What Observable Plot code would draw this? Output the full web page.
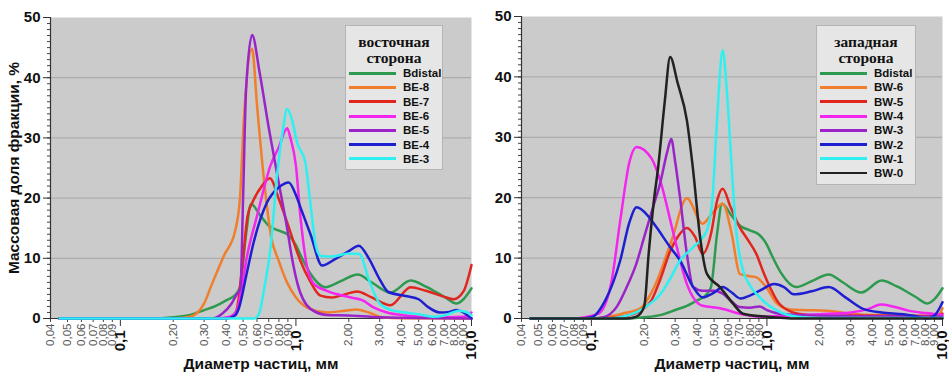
<!DOCTYPE html>
<html><head><meta charset="utf-8">
<script src="https://cdn.jsdelivr.net/npm/d3@7"></script>
<script src="https://cdn.jsdelivr.net/npm/@observablehq/plot@0.6"></script>
<style>
body{margin:0;background:#fff;font-family:"Liberation Sans",Arial,sans-serif}
#wrap{position:relative;width:949px;height:373px}
.panel{position:absolute;top:0}
.legend{position:absolute;background:#e6e6e6;border:1px solid #b4b4b4;box-sizing:border-box;padding-top:8px}
.legend .title{font-family:"Liberation Serif","Times New Roman",serif;font-weight:bold;font-size:15.5px;text-align:center;line-height:16px;color:#111}
.legend .row{display:flex;align-items:center;height:14.3px}
.legend .sw{width:47px;height:3px;margin-left:3px;margin-right:7px;flex:none}
.legend .lab{font-weight:bold;font-size:11.5px;color:#111;line-height:12px}
</style>
</head><body>
<div id="wrap">
  <div id="left" class="panel" style="left:0"></div>
  <div id="right" class="panel" style="left:475px"></div>
  <div id="legL" class="legend" style="left:345px;top:25px;width:98px;height:145px"></div>
  <div id="legR" class="legend" style="left:816px;top:25px;width:100px;height:160px"></div>
</div>
<script>
// ---------- data: [diameter mm, mass %] ----------
const bdistal = [[0.045,0],[0.15,0],[0.2,0.2],[0.25,0.6],[0.3,1.4],[0.35,2.1],[0.4,3],[0.45,3.9],[0.48,5.2],[0.52,14],[0.555,19],[0.63,17],[0.7,15.4],[0.8,14.6],[0.9,13.9],[1.0,12.2],[1.06,10.6],[1.2,7.6],[1.47,5.2],[1.8,6.2],[2.25,7.3],[2.7,6],[3.45,4.3],[4.5,6.3],[5.5,5.3],[7,3.6],[8.2,2.5],[9,3.2],[10,5]];

const be8 = [[0.045,0],[0.2,0],[0.25,0.3],[0.3,2.5],[0.33,5.5],[0.39,10.5],[0.45,14.5],[0.48,20],[0.505,33],[0.563,44.8],[0.6,35.5],[0.66,22.6],[0.72,13.8],[0.8,9.5],[0.89,6],[1.0,3.5],[1.2,1.6],[1.5,1.0],[1.9,1.3],[2.2,1.5],[2.6,1.0],[3.1,0.2],[4,0.05],[10,0]];
const be7 = [[0.045,0],[0.4,0],[0.44,0.5],[0.46,1.5],[0.5,10],[0.53,17],[0.57,19.5],[0.64,22],[0.71,23.3],[0.8,19.8],[0.89,16],[1.0,11.6],[1.06,9.6],[1.2,6.3],[1.38,3.8],[1.6,3.5],[1.9,4],[2.23,4.5],[2.7,3.5],[3.45,2.2],[4.5,5.2],[5.5,4.6],[7,3.6],[7.9,3.2],[9,4.5],[10,8.9]];
const be6 = [[0.045,0],[0.35,0],[0.42,0.3],[0.46,1.3],[0.49,5],[0.527,10.4],[0.6,17],[0.716,25.4],[0.8,28.5],[0.891,31.6],[0.93,30],[1.0,25.4],[1.06,17],[1.15,9],[1.26,5.8],[1.5,4.6],[2.06,3.5],[2.4,3],[2.75,1.9],[3.3,1],[4.2,0.5],[6,0.2],[9,0.3],[10,1.0]];
const be5 = [[0.045,0],[0.33,0],[0.38,0.8],[0.43,2.5],[0.46,4],[0.483,5],[0.5,20],[0.52,38],[0.563,47.1],[0.62,41],[0.7,31.7],[0.8,22.4],[0.891,15],[0.95,10],[1.016,6],[1.21,1.6],[1.5,0.6],[2,0.5],[3,0.2],[10,0]];
const be4 = [[0.045,0],[0.4,0],[0.45,0.5],[0.473,1.7],[0.52,7],[0.575,12.7],[0.685,19.3],[0.8,21.8],[0.91,22.6],[1.0,20.5],[1.06,18.5],[1.21,14],[1.41,8.8],[1.7,10],[2.0,11.2],[2.28,12.1],[2.6,10],[3.0,6.5],[3.36,4.4],[4.3,3.7],[5,3.2],[5.6,2],[6.6,1],[7.5,1.1],[8.2,1.4],[9,1],[10,0]];
const be3 = [[0.045,0],[0.58,0],[0.62,1],[0.66,5],[0.716,11.6],[0.78,23.7],[0.84,31],[0.891,34.8],[0.95,33],[1.016,29.2],[1.13,26],[1.2,20],[1.3,12],[1.38,10.4],[1.6,10.3],[2.0,10.8],[2.3,10.7],[2.6,6.5],[3.0,2.5],[3.5,1.4],[4.2,1],[5,0.7],[6,0.3],[7,0.5],[8.5,1.3],[9.5,1.0],[10,0.5]];

const bw6 = [[0.045,0],[0.1,0],[0.12,0.2],[0.15,0.8],[0.19,1.7],[0.233,5.8],[0.287,13],[0.35,19.9],[0.43,15.7],[0.49,17.5],[0.56,19],[0.63,14],[0.70,7.4],[0.8,7],[0.87,6.8],[0.99,5.2],[1.14,2.5],[1.35,1.5],[1.6,1.4],[2.2,1.3],[3,0.8],[5,0.5],[8,0.4],[9.5,0.6],[10,1.7]];
const bw5 = [[0.045,0],[0.11,0],[0.15,0.3],[0.19,1.3],[0.22,3],[0.247,6.5],[0.28,11],[0.31,13.5],[0.35,15],[0.39,13.5],[0.43,10.7],[0.48,14],[0.52,19.5],[0.56,21.5],[0.62,18.5],[0.70,15.1],[0.78,13],[0.87,10.7],[0.96,7.5],[1.04,5.2],[1.18,2.4],[1.5,0.8],[2,0.5],[9,0.4],[10,0.8]];
const bw4 = [[0.045,0],[0.08,0],[0.095,0.3],[0.11,0.8],[0.13,6],[0.146,16.2],[0.165,26],[0.181,28.4],[0.22,26.5],[0.247,22.8],[0.294,14],[0.35,5.7],[0.43,2.1],[0.54,1.7],[0.7,0.8],[0.9,0.3],[1.2,0.4],[2,0.7],[3,1.0],[3.8,1.6],[4.45,2.3],[5.2,2.0],[6.4,1.3],[8,0.9],[10,0.6]];
const bw3 = [[0.045,0],[0.1,0],[0.117,0.2],[0.14,2],[0.159,5.2],[0.18,9],[0.2,13.5],[0.225,18.5],[0.247,22.5],[0.27,27.5],[0.285,29.7],[0.3,26],[0.32,20],[0.35,10.7],[0.38,5.2],[0.43,4.6],[0.5,4.6],[0.56,4.1],[0.63,2.8],[0.70,1.9],[0.8,1.8],[0.91,2.0],[1.0,1.4],[1.18,0.8],[1.5,0.6],[3,0.4],[10,0.3]];
const bw2 = [[0.045,0],[0.085,0],[0.1,0.2],[0.12,3],[0.146,9.6],[0.165,16],[0.181,18.4],[0.21,17],[0.235,15.1],[0.281,11.8],[0.32,9.6],[0.38,5.2],[0.43,3.5],[0.5,4.3],[0.56,5.2],[0.63,4.3],[0.71,3.3],[0.8,3.8],[0.91,4.6],[1.1,5.7],[1.25,5.2],[1.42,4],[1.8,4.5],[2.25,5.2],[2.8,3.5],[3.53,1.6],[4.5,1],[6,0.7],[7,0.4],[8.1,0],[9,0.5],[10,2.7]];
const bw1 = [[0.045,0],[0.12,0],[0.146,0.2],[0.18,1],[0.21,2.2],[0.247,4],[0.28,6.5],[0.32,9.6],[0.38,11.8],[0.455,14.6],[0.49,20],[0.52,33],[0.56,44.4],[0.59,38],[0.63,25],[0.66,16.2],[0.73,8],[0.8,5.5],[0.91,3.5],[1.14,1.3],[1.5,0.3],[2,0.1],[10,0.1]];
const bw0 = [[0.045,0],[0.16,0],[0.181,0.3],[0.2,2],[0.212,10.7],[0.226,19],[0.24,25],[0.262,36],[0.281,43.3],[0.31,39],[0.35,32.8],[0.38,24.5],[0.416,13.5],[0.455,7.4],[0.54,5.2],[0.64,2.5],[0.73,0.8],[1.0,0.3],[1.5,0],[10,0]];

const eastNames = ["Bdistal","BE-8","BE-7","BE-6","BE-5","BE-4","BE-3"];
const eastData = [bdistal, be8, be7, be6, be5, be4, be3];
const eastColors = ["#2e9a50","#f07e2c","#e0261e","#f525f0","#9a24c8","#1f1fd2","#2ef0f0"];
const westNames = ["Bdistal","BW-6","BW-5","BW-4","BW-3","BW-2","BW-1","BW-0"];
const westData = [bdistal, bw6, bw5, bw4, bw3, bw2, bw1, bw0];
const westColors = ["#2e9a50","#f07e2c","#e0261e","#f525f0","#9a24c8","#1f1fd2","#2ef0f0","#222222"];

const xMinorTicks = [0.04,0.05,0.06,0.07,0.08,0.09,0.2,0.3,0.4,0.5,0.6,0.7,0.8,0.9,2,3,4,5,6,7,8,9];
const xMinorLabels = ["0,04","0,05","0,06","0,07","0,08","0,09","0,20","0,30","0,40","0,50","0,60","0,70","0,80","0,90","2,00","3,00","4,00","5,00","6,00","7,00","8,00","9,00"];
const xMajorTicks = [0.1,1,10];
const xMajorLabels = ["0,1","1,0","10,0"];
const yMajorTicks = [0,10,20,30,40,50];
const yMinorTicks = d3.range(0,51,1);
const gridLines = [10,20,30,40];
const xTitle = "Диаметр частиц, мм";
const yTitle = "Массовая доля фракции, %";
const eastTitle = ["восточная","сторона"];
const westTitle = ["западная","сторона"];

function panel(names, data, colors, o) {
  const rows = [];
  names.forEach((n,i) => data[i].forEach(([d,v]) => rows.push({name:n, d, v})));
  const minor = xMinorTicks.map((t,i)=>({t, s:xMinorLabels[i]}));
  const major = xMajorTicks.map((t,i)=>({t, s:xMajorLabels[i]}));
  return Plot.plot({
    width: o.width, height: 373,
    marginLeft: o.ml, marginRight: o.mr, marginTop: o.mt, marginBottom: 55,
    x: {type:"log", domain:[0.04,10], axis:null},
    y: {domain:[0,50], axis:null},
    color: {domain:names, range:colors},
    style: {background:"transparent", fontFamily:"Liberation Sans, Arial, sans-serif", overflow:"visible", color:"#222"},
    marks: [
      Plot.frame({fill:"#cbcbcb", stroke:null}),
      Plot.ruleY(gridLines, {stroke:"#a6a6a6", strokeWidth:1}),
      Plot.axisY({ticks:yMinorTicks, tickSize:3, fill:"none", label:null, stroke:"#444"}),
      Plot.axisY({ticks:yMajorTicks, tickSize:7, tickPadding:3, fontSize:15, fontWeight:"bold", label:null, stroke:"#333", fill:"#111"}),
      Plot.axisX({ticks:xMinorTicks, tickSize:4, fill:"none", label:null, stroke:"#444"}),
      Plot.axisX({ticks:xMajorTicks, tickSize:8, fill:"none", label:null, stroke:"#333"}),
      Plot.text(minor, {x:"t", text:"s", frameAnchor:"bottom", dy:5, rotate:-90, textAnchor:"end", lineAnchor:"middle", fontSize:11.5, fill:"#555"}),
      Plot.text(major, {x:"t", text:"s", frameAnchor:"bottom", dy:12, rotate:-90, textAnchor:"end", lineAnchor:"middle", fontSize:15, fontWeight:"bold", fill:"#111"}),
      Plot.ruleY([0], {stroke:"#333", strokeWidth:1.2}),
      Plot.ruleX([0.04], {stroke:"#333", strokeWidth:1.2}),
      Plot.line(rows, {x:"d", y:"v", z:"name", stroke:"name", strokeWidth:2.5, curve:"monotone-x"}),
      Plot.text([xTitle], {frameAnchor:"bottom", dy:45.5, lineAnchor:"middle", textAnchor:"middle", fontSize:15.5, fontWeight:"bold", fill:"#111"}),
      o.ytitle ? Plot.text([yTitle], {frameAnchor:"left", dx:-36, rotate:-90, textAnchor:"middle", lineAnchor:"middle", fontSize:15.5, fontWeight:"bold", fill:"#111"}) : null
    ]
  });
}

document.getElementById("left").append(panel(eastNames, eastData, eastColors, {width:475, ml:50, mr:4, mt:17, ytitle:true}));
document.getElementById("right").append(panel(westNames, westData, westColors, {width:474, ml:46, mr:7, mt:16, ytitle:false}));

function legend(el, title, names, colors) {
  let h = `<div class="title">${title[0]}<br>${title[1]}</div>`;
  names.forEach((n,i) => {
    h += `<div class="row"><div class="sw" style="background:${colors[i]};${n==="BW-0"?"height:2px":""}"></div><div class="lab">${n}</div></div>`;
  });
  el.innerHTML = h;
}
legend(document.getElementById("legL"), eastTitle, eastNames, eastColors);
legend(document.getElementById("legR"), westTitle, westNames, westColors);
</script>
</body></html>
